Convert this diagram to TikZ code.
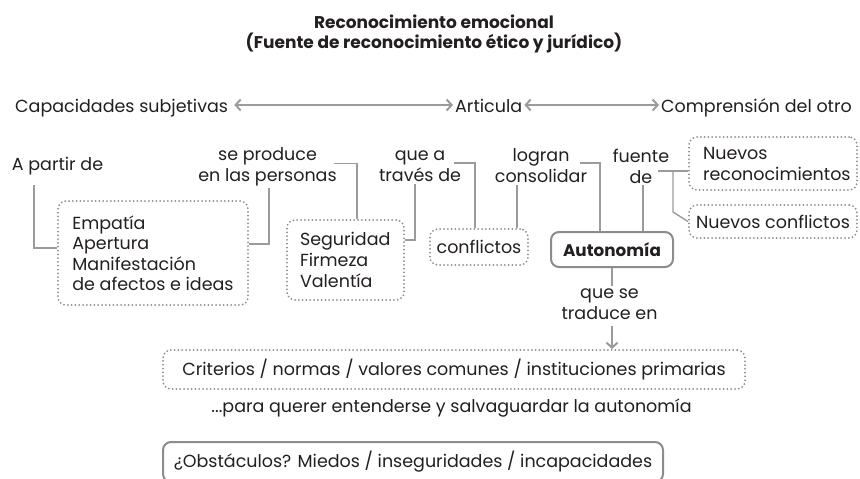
\documentclass[tikz,border=0pt]{standalone}
\usepackage{fontspec}
\setmainfont{Poppins}
\usetikzlibrary{arrows.meta}
\definecolor{linkgray}{HTML}{9B9B9B}
\definecolor{dotgray}{HTML}{8C8C8C}
\definecolor{inkblack}{HTML}{231F20}
\begin{document}
\begin{tikzpicture}[x=1pt,y=-1pt,
  txt/.style={inner sep=2pt, text=inkblack, font=\fontsize{17.5}{21}\selectfont, align=center},
  dotbox/.style={txt, draw=dotgray, line width=2pt, dash pattern=on 0pt off 3.8pt, line cap=round, rounded corners=8pt},
  solidbox/.style={txt, draw=dotgray, line width=2pt, rounded corners=8pt},
  link/.style={draw=linkgray, line width=1.4pt},
  arr/.style={draw=linkgray, line width=2pt, -{Straight Barb[length=5pt,width=11pt]}},
  arr2/.style={draw=linkgray, line width=2pt, {Straight Barb[length=5pt,width=11pt]}-{Straight Barb[length=5pt,width=11pt]}}]
\clip (0,0) rectangle (860,479);

% title
\node[txt, font=\bfseries\fontsize{17}{19.5}\selectfont] (tit) at (434,34) {Reconocimiento emocional\\(Fuente de reconocimiento ético y jurídico)};

% top row
\node[txt, anchor=base west] (cap) at (13,112) {Capacidades subjetivas};
\node[txt, anchor=base west] (art) at (453,112) {Articula};
\node[txt, anchor=base west] (comp) at (659,112) {Comprensión del otro};

\draw[arr2] ([xshift=4pt,yshift=7pt]cap.base east) -- ([yshift=7pt]art.base west);
\draw[arr2] ([yshift=7pt]art.base east) -- ([yshift=7pt]comp.base west);

% labels
\node[txt] (apd) at (57.5,166) {A partir de};
\node[txt] (sep) at (267.5,167) {se produce\\en las personas};
\node[txt] (qat) at (420,166) {que a\\través de};
\node[txt] (log) at (541,166) {logran\\consolidar};
\node[txt] (fue) at (641,166) {fuente\\de};

% boxes
\node[dotbox, minimum width=190pt, minimum height=104pt, align=left, font=\fontsize{17.5}{20.5}\selectfont] (emp) at (153,253) {Empatía\\Apertura\\Manifestación\\de afectos e ideas};
\node[dotbox, text width=91pt, inner xsep=13pt, minimum height=80pt, align=left] (seg) at (345.5,260) {Seguridad\\Firmeza\\Valentía};
\node[dotbox, minimum width=98pt, minimum height=36pt] (conf) at (479,247) {conflictos};
\node[solidbox, minimum width=122pt, minimum height=35pt, font=\bfseries\fontsize{16.8}{21}\selectfont] (auto) at (612,249.5) {Autonomía};
\node[dotbox, text width=140pt, inner xsep=14pt, minimum height=53pt, align=left] (nrec) at (773,163.5) {Nuevos\\reconocimientos};
\node[dotbox, minimum width=168pt, minimum height=33pt] (ncon) at (773,221.5) {Nuevos conflictos};

\node[txt] (qst) at (609.5,304) {que se\\traduce en};
\node[dotbox, minimum width=582pt, minimum height=39pt] (crit) at (454,369.5) {Criterios / normas / valores comunes / instituciones primarias};
\node[txt] (par) at (451.5,408) {...para querer entenderse y salvaguardar la autonomía};
\node[solidbox, minimum width=500pt, minimum height=40pt] (obs) at (413,462) {¿Obstáculos? Miedos / inseguridades / incapacidades};

% connectors
\draw[link] ([xshift=-23.5pt,yshift=-8pt]apd.south) |- ([yshift=5pt]emp.west);
\draw[link] ([xshift=1.5pt]sep.south) |- ([yshift=9pt]emp.east);
\draw[link] ([xshift=-5pt,yshift=3.5pt]sep.east) -| ([xshift=11.5pt]seg.north);
\draw[link] ([xshift=-5pt]qat.south) |- ([yshift=20pt]seg.east);
\draw[link] ([xshift=-9pt,yshift=3pt]qat.east) -| ([xshift=-4pt]conf.north);
\draw[link] ([xshift=-24pt]log.south) -- ([xshift=38pt]conf.north);
\draw[link] ([xshift=-9pt,yshift=3pt]log.east) -| ([xshift=-12pt]auto.north);
\draw[link] ([xshift=2pt]fue.south) -- ([xshift=31pt]auto.north);

\coordinate (fork) at (673,171);
\draw[link] ([xshift=-15pt]fork) -- (fork -| nrec.west);
\draw[link] (fork) -- ([yshift=-41pt]fork) -- (ncon.west);

\draw[link] (auto.south) -- (auto.south |- qst.north);
\draw[arr] ([xshift=2.5pt,yshift=-4pt]qst.south) -- ([xshift=158pt]crit.north);

\end{tikzpicture}
\end{document}
